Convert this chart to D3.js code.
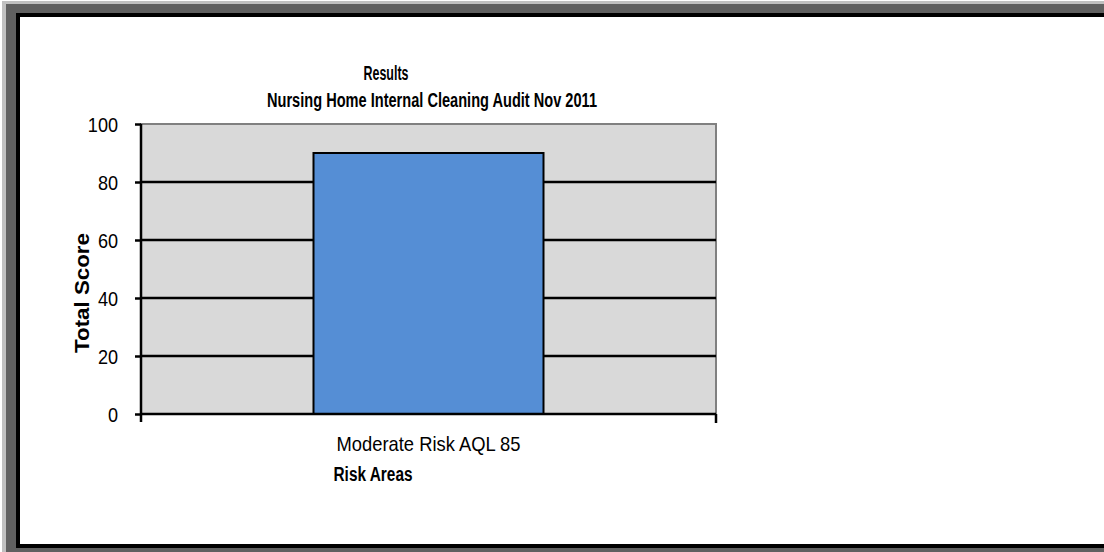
<!DOCTYPE html>
<html>
<head>
<meta charset="utf-8">
<script src="https://cdn.jsdelivr.net/npm/d3@7"></script>
<style>
  html, body { margin: 0; padding: 0; background: #fff; }
  svg { display: block; }
</style>
</head>
<body>
<svg id="chart" width="1104" height="552"></svg>
<script>
const categories = ["Moderate Risk AQL 85"];
const values = [90];
const yTicks = [0, 20, 40, 60, 80, 100];
const titleLines = ["Results", "Nursing Home Internal Cleaning Audit Nov 2011"];
const yTitle = "Total Score";
const xTitle = "Risk Areas";

const svg = d3.select("#chart");
const font = "'Liberation Sans', Arial, sans-serif";

// squeeze text horizontally to mimic a narrow typeface
function condense(sel, factor) {
  sel.each(function () {
    const w = this.getComputedTextLength();
    d3.select(this).attr("textLength", w * factor).attr("lengthAdjust", "spacingAndGlyphs");
  });
}
function fitWidth(sel, width) {
  sel.attr("textLength", width).attr("lengthAdjust", "spacingAndGlyphs");
}

// frame
svg.append("rect").attr("x", 0).attr("y", 0).attr("width", 1104).attr("height", 552).attr("fill", "#fff");
svg.append("rect").attr("x", 2).attr("y", 1).attr("width", 1102).attr("height", 551).attr("fill", "#c0c0c0");
svg.append("rect").attr("x", 6).attr("y", 4).attr("width", 1098).attr("height", 548).attr("fill", "#606060");
svg.append("rect").attr("x", 16).attr("y", 13).attr("width", 1088).attr("height", 535).attr("fill", "#000");
svg.append("rect").attr("x", 20).attr("y", 17).attr("width", 1084).attr("height", 527).attr("fill", "#fff");

const pLeft = 141, pRight = 716, pTop = 124, pBottom = 414;

const x = d3.scaleBand().domain(categories).range([pLeft, pRight]).paddingInner(0).paddingOuter(0.75);
const y = d3.scaleLinear().domain([0, 100]).range([pBottom, pTop]);

// plot background
svg.append("rect").attr("x", pLeft).attr("y", pTop).attr("width", pRight - pLeft).attr("height", pBottom - pTop)
  .attr("fill", "#d9d9d9").attr("stroke", "#808080").attr("stroke-width", 2);

// gridlines
svg.append("g").selectAll("line").data(yTicks.filter(d => d > 0 && d < 100)).join("line")
  .attr("x1", pLeft).attr("x2", pRight).attr("y1", d => y(d)).attr("y2", d => y(d))
  .attr("stroke", "#000").attr("stroke-width", 2.5);

// bars
svg.append("g").selectAll("rect").data(categories).join("rect")
  .attr("x", d => x(d)).attr("width", x.bandwidth())
  .attr("y", (d, i) => y(values[i])).attr("height", (d, i) => y(0) - y(values[i]))
  .attr("fill", "#558ed5").attr("stroke", "#000").attr("stroke-width", 2);

// y axis
const yAxis = svg.append("g").attr("transform", `translate(${pLeft},0)`)
  .call(d3.axisLeft(y).tickValues(yTicks).tickSize(6).tickPadding(17).tickFormat(d3.format("d")));
yAxis.select(".domain").attr("stroke", "#000").attr("stroke-width", 2.5).attr("d", `M0,${pTop}V${pBottom + 8}`);
yAxis.selectAll(".tick line").attr("stroke", "#000").attr("stroke-width", 2.5);
yAxis.selectAll(".tick text").attr("font-family", font).attr("font-size", 21).attr("fill", "#000").attr("dy", "0.36em")
  .call(condense, 0.86);

// x axis
const xAxis = svg.append("g").attr("transform", `translate(0,${pBottom})`)
  .call(d3.axisBottom(x).tickSize(0).tickPadding(22));
xAxis.select(".domain").attr("stroke", "#000").attr("stroke-width", 2.5).attr("d", `M${pLeft},0H${pRight}`);
xAxis.selectAll(".tick text").attr("font-family", font).attr("font-size", 21).attr("fill", "#000")
  .call(fitWidth, 184);
xAxis.append("line").attr("x1", pRight).attr("x2", pRight).attr("y1", 0).attr("y2", 9)
  .attr("stroke", "#000").attr("stroke-width", 2.5);

// titles
svg.append("text").attr("x", 386).attr("y", 80).attr("text-anchor", "middle")
  .attr("font-family", font).attr("font-weight", "bold").attr("font-size", 20).text(titleLines[0])
  .call(fitWidth, 45);
svg.append("text").attr("x", 432).attr("y", 107).attr("text-anchor", "middle")
  .attr("font-family", font).attr("font-weight", "bold").attr("font-size", 20).text(titleLines[1])
  .call(fitWidth, 330);

svg.append("text").attr("transform", `translate(89,${293}) rotate(-90)`).attr("text-anchor", "middle")
  .attr("font-family", font).attr("font-weight", "bold").attr("font-size", 21).text(yTitle)
  .call(fitWidth, 120);

svg.append("text").attr("x", 373).attr("y", 481).attr("text-anchor", "middle")
  .attr("font-family", font).attr("font-weight", "bold").attr("font-size", 20).text(xTitle)
  .call(fitWidth, 79);
</script>
</body>
</html>
